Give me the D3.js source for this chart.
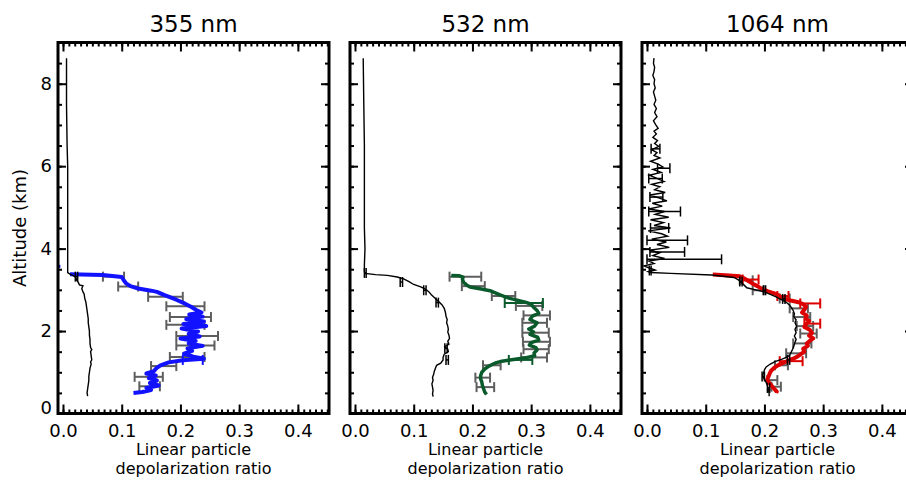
<!DOCTYPE html>
<html>
<head>
<meta charset="utf-8">
<script src="https://cdn.jsdelivr.net/npm/d3@7/dist/d3.min.js"></script>
<style>
  body { margin: 0; background: #fff; }
  svg { display: block; }
  text { font-family: "DejaVu Sans", sans-serif; fill: #000; }
</style>
</head>
<body>
<div id="chart"></div>
<script>
// ---- data: [altitude km, depolarization ratio] ----
const black355 = [[8.62,0.006],[7.5,0.006],[6.5,0.007],[6.0,0.008],[5.0,0.008],[4.2,0.008],[3.6,0.008],[3.42,0.008],[3.38,0.012],[3.34,0.018],[3.30,0.022],[3.24,0.023],[3.18,0.026],[3.12,0.028],[3.10,0.034],[3.03,0.032],[2.95,0.034],[2.90,0.036],[2.80,0.037],[2.70,0.039],[2.60,0.040],[2.50,0.041],[2.40,0.042],[2.30,0.043],[2.20,0.043],[2.10,0.044],[2.00,0.045],[1.90,0.045],[1.80,0.046],[1.70,0.046],[1.60,0.047],[1.55,0.049],[1.50,0.047],[1.40,0.048],[1.30,0.049],[1.25,0.047],[1.20,0.048],[1.10,0.046],[1.00,0.045],[0.90,0.044],[0.80,0.044],[0.70,0.043],[0.60,0.042],[0.50,0.041],[0.42,0.042]];
const blue355 = [[3.38,0.012],[3.36,0.068],[3.31,0.100],[3.22,0.104],[3.15,0.108],[3.09,0.115],[3.03,0.128],[2.98,0.150],[2.95,0.160],[2.87,0.173],[2.76,0.193],[2.67,0.207],[2.59,0.218],[2.51,0.227],[2.45,0.236],[2.40,0.215],[2.35,0.238],[2.29,0.210],[2.23,0.240],[2.17,0.205],[2.12,0.244],[2.06,0.202],[1.99,0.230],[1.93,0.214],[1.87,0.233],[1.82,0.200],[1.76,0.226],[1.70,0.214],[1.64,0.238],[1.58,0.212],[1.52,0.220],[1.45,0.206],[1.38,0.222],[1.33,0.240],[1.29,0.204],[1.24,0.180],[1.17,0.166],[1.10,0.159],[1.03,0.155],[0.97,0.142],[0.92,0.158],[0.86,0.146],[0.80,0.160],[0.74,0.148],[0.68,0.163],[0.62,0.142],[0.57,0.150],[0.52,0.135],[0.50,0.120]];
const dot355 = [[3.57,-0.007]];
// error bars: [altitude, low, high]
const gray355 = [[3.32,0.068,0.104],[3.08,0.094,0.128],[2.83,0.145,0.204],[2.60,0.176,0.241],[2.34,0.182,0.252],[2.15,0.176,0.241],[1.88,0.193,0.264],[1.65,0.193,0.258],[1.37,0.182,0.241],[1.15,0.150,0.193],[0.89,0.122,0.170],[0.66,0.130,0.165]];
const colorBars355 = [[1.30,0.204,0.238]];
const blackBars355 = [[3.32,0.021,0.025]];

const black532 = [[8.62,0.014],[7.5,0.015],[6.5,0.016],[5.5,0.016],[4.5,0.016],[4.0,0.017],[3.6,0.016],[3.45,0.016],[3.40,0.017],[3.37,0.035],[3.35,0.055],[3.31,0.072],[3.27,0.082],[3.20,0.092],[3.13,0.100],[3.07,0.112],[3.02,0.120],[2.95,0.126],[2.88,0.130],[2.80,0.136],[2.72,0.142],[2.64,0.148],[2.55,0.152],[2.45,0.154],[2.36,0.155],[2.28,0.157],[2.20,0.156],[2.12,0.158],[2.04,0.159],[1.98,0.158],[1.90,0.160],[1.82,0.161],[1.75,0.158],[1.68,0.160],[1.62,0.153],[1.56,0.158],[1.50,0.159],[1.44,0.152],[1.36,0.150],[1.30,0.150],[1.22,0.146],[1.17,0.139],[1.10,0.137],[1.02,0.135],[0.95,0.134],[0.88,0.132],[0.80,0.133],[0.72,0.131],[0.64,0.132],[0.56,0.133],[0.48,0.132],[0.41,0.133]];
const green532 = [[3.35,0.164],[3.34,0.178],[3.31,0.184],[3.25,0.183],[3.18,0.185],[3.12,0.190],[3.07,0.196],[3.02,0.215],[2.98,0.230],[2.92,0.240],[2.87,0.248],[2.80,0.262],[2.75,0.276],[2.70,0.290],[2.65,0.300],[2.58,0.304],[2.50,0.310],[2.43,0.313],[2.36,0.302],[2.28,0.298],[2.20,0.310],[2.12,0.306],[2.05,0.296],[1.98,0.304],[1.92,0.298],[1.85,0.311],[1.78,0.313],[1.72,0.300],[1.66,0.297],[1.60,0.308],[1.54,0.310],[1.47,0.305],[1.40,0.306],[1.35,0.290],[1.31,0.270],[1.27,0.250],[1.22,0.238],[1.15,0.228],[1.08,0.221],[1.00,0.216],[0.92,0.214],[0.84,0.214],[0.76,0.216],[0.68,0.217],[0.60,0.219],[0.52,0.221],[0.46,0.224]];
const gray532 = [[3.32,0.161,0.215],[3.09,0.182,0.221],[2.85,0.233,0.273],[2.61,0.274,0.319],[2.38,0.287,0.332],[2.20,0.285,0.327],[1.96,0.285,0.330],[1.74,0.286,0.332],[1.56,0.287,0.330],[1.36,0.283,0.327],[1.17,0.218,0.248],[0.87,0.205,0.230],[0.64,0.207,0.237]];
const colorBars532 = [[2.68,0.255,0.320],[1.30,0.262,0.302]];
const blackBars532 = [[3.41,0.016,0.019],[3.19,0.077,0.081],[2.99,0.117,0.121],[2.69,0.138,0.142],[1.58,0.153,0.157],[1.30,0.155,0.159]];

const black1064 = [[8.62,0.012],[8.50,0.011],[8.40,0.013],[8.30,0.012],[8.20,0.010],[8.10,0.013],[8.00,0.012],[7.90,0.014],[7.80,0.011],[7.70,0.013],[7.60,0.015],[7.50,0.012],[7.40,0.016],[7.30,0.013],[7.20,0.017],[7.10,0.011],[7.00,0.015],[6.92,0.019],[6.85,0.012],[6.78,0.016],[6.70,0.010],[6.62,0.018],[6.55,0.013],[6.48,0.020],[6.40,0.008],[6.33,0.017],[6.26,0.012],[6.20,0.022],[6.12,0.006],[6.05,0.019],[5.98,0.027],[5.92,0.010],[5.85,0.024],[5.78,0.004],[5.70,0.018],[5.63,0.029],[5.56,0.008],[5.50,0.022],[5.43,0.013],[5.36,0.031],[5.30,0.005],[5.23,0.020],[5.16,0.034],[5.10,0.009],[5.03,0.026],[4.96,0.003],[4.90,0.030],[4.83,0.014],[4.76,0.037],[4.70,0.006],[4.63,0.028],[4.56,0.012],[4.50,0.040],[4.43,0.002],[4.36,0.025],[4.30,0.035],[4.23,0.008],[4.16,0.033],[4.10,0.017],[4.03,0.038],[3.96,0.004],[3.90,0.022],[3.83,0.010],[3.76,0.030],[3.70,0.003],[3.64,0.012],[3.58,-0.005],[3.53,0.004],[3.48,0.014],[3.44,0.002],[3.42,0.006],[3.40,0.040],[3.36,0.110],[3.30,0.148],[3.25,0.155],[3.18,0.160],[3.12,0.165],[3.05,0.170],[3.00,0.185],[2.95,0.200],[2.89,0.210],[2.83,0.220],[2.77,0.228],[2.71,0.236],[2.64,0.242],[2.57,0.246],[2.50,0.249],[2.42,0.251],[2.35,0.250],[2.27,0.254],[2.20,0.252],[2.12,0.255],[2.04,0.252],[1.96,0.254],[1.88,0.251],[1.80,0.254],[1.72,0.252],[1.64,0.250],[1.56,0.248],[1.50,0.246],[1.44,0.244],[1.38,0.240],[1.32,0.230],[1.26,0.218],[1.20,0.210],[1.13,0.203],[1.06,0.200],[1.00,0.199],[0.93,0.197],[0.87,0.198],[0.81,0.201],[0.75,0.203],[0.69,0.205],[0.62,0.206],[0.55,0.207],[0.48,0.208],[0.42,0.208]];
const red1064 = [[3.37,0.112],[3.35,0.140],[3.33,0.158],[3.28,0.165],[3.22,0.172],[3.15,0.180],[3.09,0.188],[3.03,0.195],[2.97,0.205],[2.91,0.218],[2.85,0.226],[2.79,0.232],[2.74,0.245],[2.70,0.258],[2.65,0.266],[2.59,0.271],[2.52,0.268],[2.45,0.264],[2.38,0.272],[2.31,0.270],[2.24,0.276],[2.17,0.271],[2.10,0.268],[2.03,0.277],[1.96,0.281],[1.89,0.276],[1.82,0.283],[1.76,0.277],[1.70,0.272],[1.64,0.274],[1.57,0.266],[1.50,0.268],[1.44,0.262],[1.38,0.256],[1.33,0.249],[1.28,0.240],[1.22,0.231],[1.16,0.222],[1.10,0.216],[1.03,0.211],[0.97,0.209],[0.90,0.207],[0.83,0.205],[0.76,0.207],[0.70,0.211],[0.64,0.214],[0.58,0.218],[0.53,0.221],[0.50,0.220]];
const gray1064 = [[3.23,0.158,0.180],[2.99,0.180,0.200],[2.79,0.226,0.243],[2.55,0.243,0.274],[2.34,0.249,0.278],[2.12,0.255,0.283],[1.94,0.261,0.289],[1.70,0.249,0.280],[1.46,0.237,0.271],[1.17,0.218,0.240],[0.81,0.205,0.222],[0.65,0.212,0.228]];
const colorBars1064 = [[3.25,0.163,0.190],[2.85,0.222,0.241],[2.67,0.261,0.295],[2.18,0.268,0.295],[1.27,0.226,0.265]];
const blackBars1064 = [[6.42,0.007,0.022],[5.95,0.018,0.039],[5.70,0.003,0.026],[5.25,0.005,0.027],[4.90,0.003,0.057],[4.50,0.006,0.037],[4.20,0.000,0.069],[3.92,0.005,0.064],[3.74,0.000,0.127],[3.47,0.004,0.007],[3.20,0.158,0.162],[2.99,0.198,0.202],[2.78,0.231,0.235],[1.30,0.239,0.243],[0.90,0.196,0.200],[0.62,0.205,0.209]];

const titles = ['355 nm', '532 nm', '1064 nm'];
const xTicks = [0, 0.1, 0.2, 0.3, 0.4];
const yTicks = [0, 2, 4, 6, 8];

const panels = [
  {title: titles[0], black: black355, line: blue355, color: '#1212ff', width: 4, gray: gray355, cbars: colorBars355, kbars: blackBars355, dots: dot355},
  {title: titles[1], black: black532, line: green532, color: '#0a5a2c', width: 3.5, gray: gray532, cbars: colorBars532, kbars: blackBars532, dots: []},
  {title: titles[2], black: black1064, line: red1064, color: '#dc0000', width: 4, gray: gray1064, cbars: colorBars1064, kbars: blackBars1064, dots: []}
];

// ---- dimensions ----
const dimensions = {width: 906, height: 481, top: 42.5, bottom: 413.5, left: 58, panelWidth: 271, step: 292};

const svg = d3.select('#chart').append('svg')
  .attr('width', dimensions.width)
  .attr('height', dimensions.height);

const yScale = d3.scaleLinear().domain([0, 9]).range([dimensions.bottom, dimensions.top]);

panels.forEach((p, i) => {
  const x0 = dimensions.left + i * dimensions.step;
  const xScale = d3.scaleLinear().domain([-0.0085, 0.453]).range([x0, x0 + dimensions.panelWidth]);
  const g = svg.append('g');

  // error bars
  function drawBars(data, color, sw, cap) {
    const bars = g.append('g').attr('stroke', color).attr('stroke-width', sw).attr('fill', 'none');
    data.forEach(d => {
      const y = yScale(d[0]);
      bars.append('line').attr('x1', xScale(d[1])).attr('x2', xScale(d[2])).attr('y1', y).attr('y2', y);
      bars.append('line').attr('x1', xScale(d[1])).attr('x2', xScale(d[1])).attr('y1', y - cap).attr('y2', y + cap);
      bars.append('line').attr('x1', xScale(d[2])).attr('x2', xScale(d[2])).attr('y1', y - cap).attr('y2', y + cap);
    });
  }

  const line = d3.line().x(d => xScale(d[1])).y(d => yScale(d[0]));

  drawBars(p.gray, '#5e5e5e', 2, 5);

  g.append('path')
    .attr('d', line(p.line))
    .attr('fill', 'none')
    .attr('stroke', p.color)
    .attr('stroke-width', p.width)
    .attr('stroke-linejoin', 'round');

  drawBars(p.cbars, p.color, 2, 5);

  g.append('path')
    .attr('d', line(p.black))
    .attr('fill', 'none')
    .attr('stroke', '#000')
    .attr('stroke-width', 1.4);

  drawBars(p.kbars, '#000', 1.5, 5);

  g.selectAll('.dot').data(p.dots).join('rect')
    .attr('x', d => xScale(d[1]) - 1.5)
    .attr('y', d => yScale(d[0]) - 1.5)
    .attr('width', 3).attr('height', 3)
    .attr('fill', p.color);

  // axes (ticks point inward)
  const minorX = d3.range(0, 46).map(k => k / 100);
  const minorY = d3.range(0, 19).map(k => k / 2);

  function axis(gen, transform, values, size, labels) {
    const a = g.append('g').attr('transform', transform)
      .call(gen.tickValues(values).tickSize(-size).tickPadding(6)
        .tickFormat(labels ? labels : ''));
    a.select('.domain').remove();
    a.selectAll('line').attr('stroke', '#000').attr('stroke-width', 2);
    a.selectAll('text').style('font-size', '18px').style('font-family', '"DejaVu Sans", sans-serif');
    return a;
  }

  axis(d3.axisBottom(xScale), `translate(0,${dimensions.bottom})`, minorX, 4);
  axis(d3.axisBottom(xScale), `translate(0,${dimensions.bottom})`, xTicks, 9, d3.format('.1f'))
    .selectAll('text').attr('dy', '0.95em');
  axis(d3.axisTop(xScale), `translate(0,${dimensions.top})`, minorX, 4);
  axis(d3.axisTop(xScale), `translate(0,${dimensions.top})`, xTicks, 9);
  axis(d3.axisLeft(yScale), `translate(${x0},0)`, minorY, 4);
  const yl = axis(d3.axisLeft(yScale), `translate(${x0},0)`, yTicks, 8, i === 0 ? d3.format('d') : null);
  yl.selectAll('.tick').filter(d => d === 0).select('text').attr('dy', '0.0em');
  axis(d3.axisRight(yScale), `translate(${x0 + dimensions.panelWidth},0)`, minorY, 4);
  axis(d3.axisRight(yScale), `translate(${x0 + dimensions.panelWidth},0)`, yTicks, 8);

  // frame
  g.append('rect')
    .attr('x', x0).attr('y', dimensions.top)
    .attr('width', dimensions.panelWidth).attr('height', dimensions.bottom - dimensions.top)
    .attr('fill', 'none').attr('stroke', '#000').attr('stroke-width', 3);

  // titles
  const cx = x0 + dimensions.panelWidth / 2;
  g.append('text').attr('x', cx).attr('y', 32).attr('text-anchor', 'middle')
    .style('font-size', '23px').text(p.title);
  g.append('text').attr('x', cx).attr('y', 455).attr('text-anchor', 'middle')
    .style('font-size', '16px').text('Linear particle');
  g.append('text').attr('x', cx).attr('y', 474).attr('text-anchor', 'middle')
    .style('font-size', '16px').text('depolarization ratio');
});

svg.append('text')
  .attr('transform', 'translate(26,228) rotate(-90)')
  .attr('text-anchor', 'middle')
  .style('font-size', '18px')
  .text('Altitude (km)');
</script>
</body>
</html>
